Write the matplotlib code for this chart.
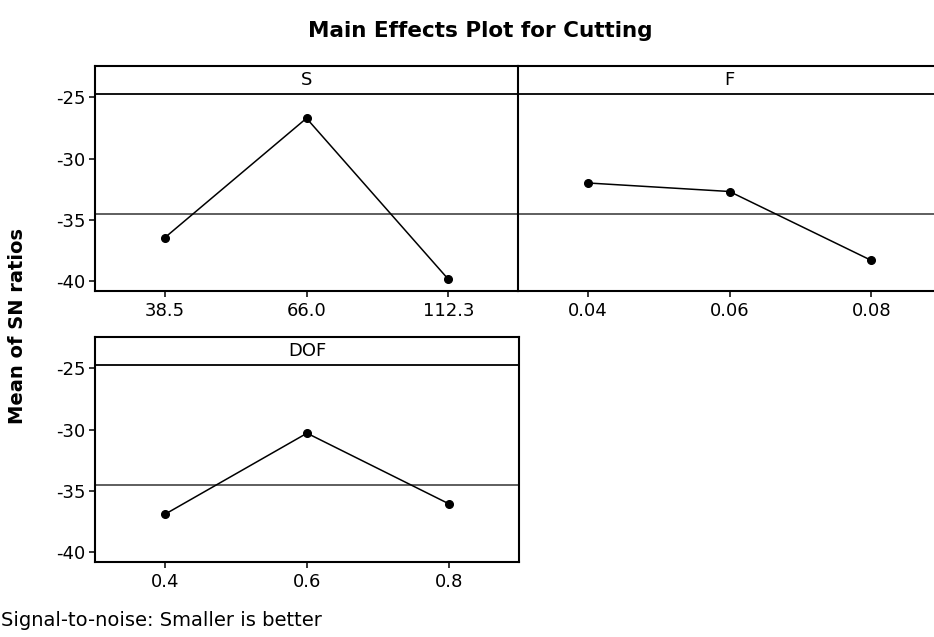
import matplotlib
matplotlib.use("Agg")
import matplotlib.pyplot as plt

plt.rcParams['font.family'] = ['DejaVu Sans']

# factor levels and mean SN ratios
s_levels = ["38.5", "66.0", "112.3"]
s_means = [-36.5, -26.7, -39.9]
f_levels = ["0.04", "0.06", "0.08"]
f_means = [-32.0, -32.7, -38.35]
dof_levels = ["0.4", "0.6", "0.8"]
dof_means = [-36.95, -30.3, -36.1]
grand_mean = -34.55
y_ticks = [-25, -30, -35, -40]

W, H = 934, 637
fig = plt.figure(figsize=(W / 100, H / 100), dpi=100)

def px_axes(x0, y0, x1, y1):
    return fig.add_axes([x0 / W, 1 - y1 / H, (x1 - x0) / W, (y1 - y0) / H])

ylim = (-40.85, -22.42)
header_y = -24.68

def panel(ax, name, levels, means, show_y):
    pos = [1, 2, 3]
    ax.plot(pos, means, color="black", lw=1.1, marker="o", ms=5.5, zorder=3)
    ax.axhline(grand_mean, color="#333333", lw=1.1, zorder=2)
    ax.axhline(header_y, color="black", lw=1.3, zorder=2)
    ax.text(2, (header_y + ylim[1]) / 2, name, ha="center", va="center", fontsize=13)
    ax.set_xlim(0.51, 3.49)
    ax.set_ylim(*ylim)
    ax.set_xticks(pos)
    ax.set_xticklabels(levels, fontsize=13)
    ax.set_yticks(y_ticks)
    if show_y:
        ax.set_yticklabels([str(t) for t in y_ticks], fontsize=13)
        ax.tick_params(axis="y", length=4, width=1.1, pad=3)
    else:
        ax.tick_params(axis="y", left=False, labelleft=False)
    ax.tick_params(axis="x", length=4, width=1.1, pad=4)
    for sp in ax.spines.values():
        sp.set_linewidth(1.5)

ax1 = px_axes(95, 66, 518, 291)
panel(ax1, "S", s_levels, s_means, True)
ax1.spines["right"].set_visible(False)
ax2 = px_axes(518, 66, 941, 291)
panel(ax2, "F", f_levels, f_means, False)
ax3 = px_axes(95, 337, 519, 562)
panel(ax3, "DOF", dof_levels, dof_means, True)

fig.text(480 / W, 1 - 31 / H, "Main Effects Plot for Cutting", ha="center", va="center",
         fontsize=15.5, fontweight="bold")
fig.text(18 / W, 1 - 326 / H, "Mean of SN ratios", rotation=90, ha="center", va="center",
         fontsize=14, fontweight="bold")
fig.text(1 / W, 1 - 620 / H, "Signal-to-noise: Smaller is better", ha="left", va="center",
         fontsize=14)

fig.savefig("out.png", dpi=100)
